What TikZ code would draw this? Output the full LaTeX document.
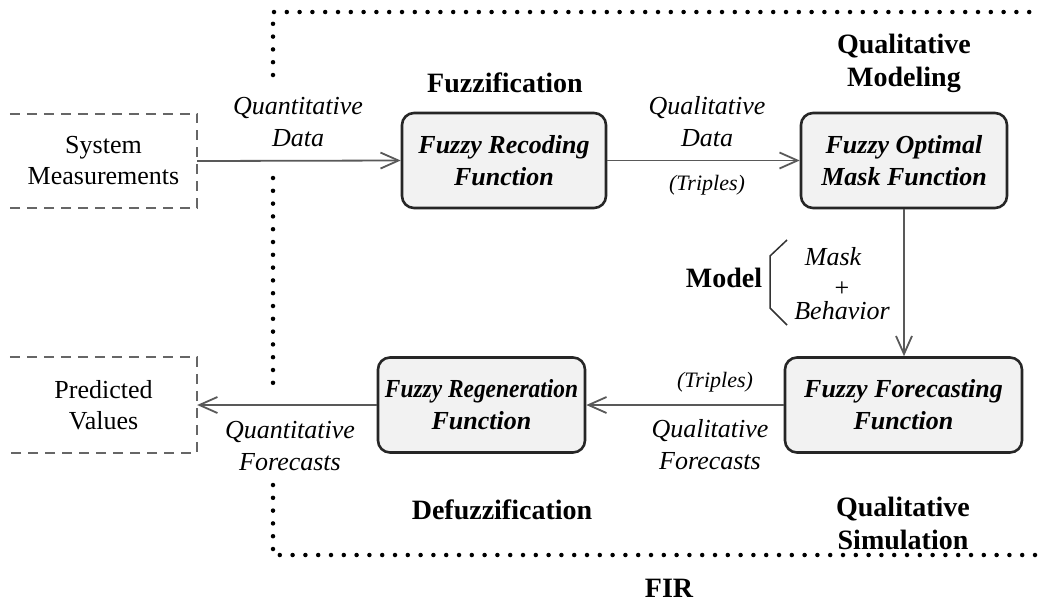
\documentclass[tikz,border=0pt]{standalone}
\usepackage{fontspec}
\setmainfont{Liberation Serif}
\usetikzlibrary{arrows.meta}
\begin{document}
\begin{tikzpicture}[x=1pt,y=-1pt,
  fbox/.style={draw=black!85, line width=2.6pt, fill=black!5, rounded corners=12pt,
    align=center, font=\fontsize{26}{32}\selectfont\bfseries\itshape, inner sep=0pt},
  plain/.style={align=center, inner sep=0pt, font=\fontsize{26}{31}\selectfont},
  ital/.style={align=center, inner sep=0pt, font=\fontsize{26}{32}\selectfont\itshape},
  bld/.style={align=center, inner sep=0pt, font=\fontsize{28}{33}\selectfont\bfseries},
  arr/.style={draw=black!65, line width=1.8pt, -{Straight Barb[length=18pt,width=16pt,line width=1.8pt]}},
  dashbox/.style={draw=black!60, line width=1.8pt, dash pattern=on 10pt off 7pt},
  dotline/.style={draw=black, line width=4.5pt, line cap=round, dash pattern=on 0pt off 12.8pt},
]
\useasboundingbox (0,0) rectangle (1039,606);

% dotted FIR boundary
\draw[dotline] (273,75) -- (273,12) -- (1039,12);
\draw[dotline] (273,178) -- (273,390);
\draw[dotline] (273,485) -- (273,555) -- (1039,555);

% outer boxes
\node[plain, minimum width=187pt, minimum height=94pt] (sys) at (103.5,161) {System\\Measurements};
\draw[dashbox] (sys.north west) -- (sys.north east) -- (sys.south east) -- (sys.south west);
\node[plain, minimum width=187pt, minimum height=95pt] (pred) at (103.5,405) {Predicted\\Values};
\draw[dashbox] (pred.north west) -- (pred.north east) -- (pred.south east) -- (pred.south west);

% function boxes
\node[fbox, minimum width=204pt, minimum height=95pt] (rec) at (504,160.5) {Fuzzy Recoding\\Function};
\node[fbox, minimum width=206pt, minimum height=95pt] (opt) at (904,160.5) {Fuzzy Optimal\\Mask Function};
\node[fbox, minimum width=207pt, minimum height=95pt] (regen) at (481.5,405) {\scalebox{0.9}[1]{Fuzzy Regeneration}\\Function};
\node[fbox, minimum width=237pt, minimum height=95pt] (fore) at (903.5,405) {Fuzzy Forecasting\\Function};

% connectors
\draw[arr] (sys.east) -- (rec.west);
\draw[arr] (rec.east) -- (opt.west);
\draw[arr] (opt.south) -- (opt.south |- fore.north);
\draw[arr] (fore.west) -- (regen.east);
\draw[arr] (regen.west) -- (pred.east);

% labels
\node[ital] (lqd) at (298,122) {Quantitative\\Data};
\node[ital] (lqld) at (707,122) {Qualitative\\Data};
\node[ital, font=\fontsize{22}{26}\selectfont\itshape] (ltr1) at (707,185) {(Triples)};
\node[bld] (lfz) at (505,83) {Fuzzification};
\node[bld] (lqm) at (904,63) {Qualitative\\Modeling};
\node[bld] (lmodel) at (724,278) {Model};
\draw[black!80, line width=1.5pt] (787,240) -- (770,256) -- (770,308) -- (787,325);
\node[ital] (lmask) at (833,257) {Mask};
\node[plain] (lplus) at (842,289) {+};
\node[ital] (lbeh) at (842,311) {Behavior};
\node[ital, font=\fontsize{22}{26}\selectfont\itshape] (ltr2) at (715,382) {(Triples)};
\node[ital] (lqf) at (710,445) {Qualitative\\Forecasts};
\node[ital] (lquf) at (290,446) {Quantitative\\Forecasts};
\node[bld] (ldef) at (502,510) {Defuzzification};
\node[bld] (lqs) at (903,523) {Qualitative\\Simulation};
\node[bld] (lfir) at (669,588) {FIR};
\end{tikzpicture}
\end{document}
